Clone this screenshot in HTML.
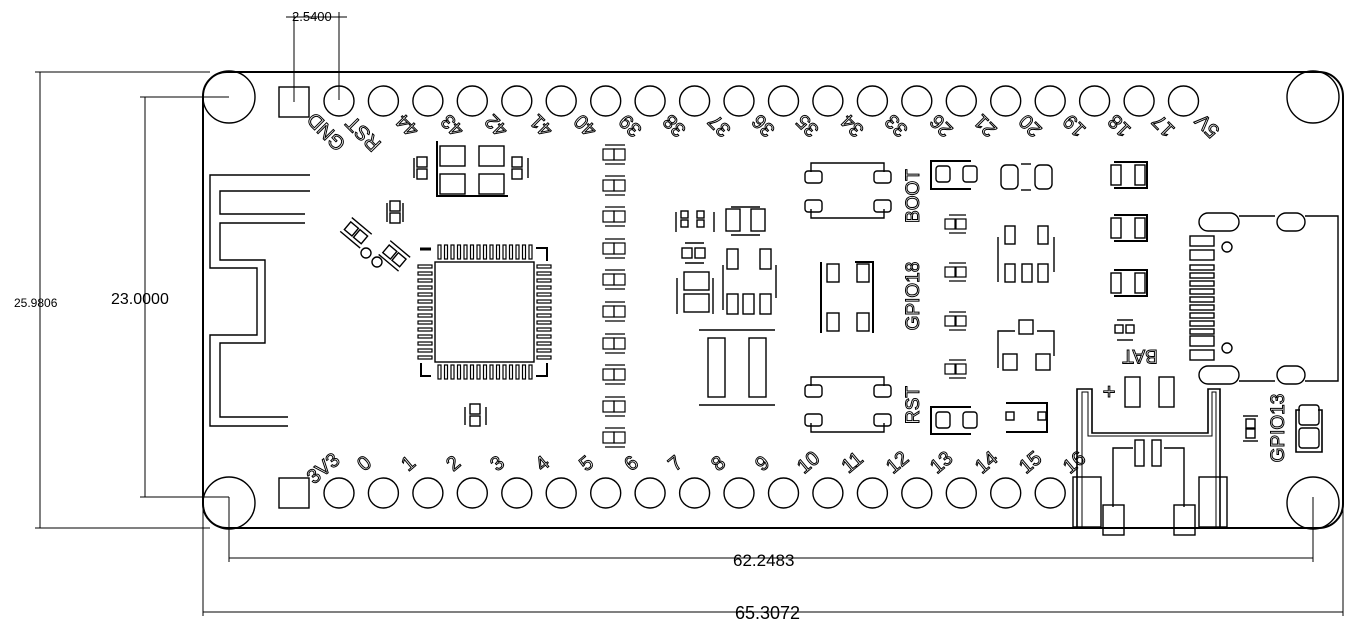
<!DOCTYPE html>
<html><head><style>
html,body{margin:0;padding:0;background:#fff;}
svg{display:block;}
.t{font-family:"Liberation Sans",sans-serif;fill:none;stroke:#000;stroke-width:1;}
.d{font-family:"Liberation Sans",sans-serif;fill:#000;}
</style></head><body>
<svg width="1362" height="634" viewBox="0 0 1362 634" xmlns="http://www.w3.org/2000/svg">
<g fill="none" stroke="#000" stroke-width="1.4">
<g stroke-width="1">
<line x1="35" y1="72" x2="210" y2="72"/><line x1="40" y1="72" x2="40" y2="528"/><line x1="35" y1="528" x2="210" y2="528"/>
<line x1="140" y1="97" x2="229" y2="97"/><line x1="145" y1="97" x2="145" y2="497"/><line x1="140" y1="497" x2="229" y2="497"/>
<line x1="229" y1="497" x2="229" y2="562"/><line x1="1313" y1="497" x2="1313" y2="562"/><line x1="229" y1="558" x2="1313" y2="558"/>
<line x1="203" y1="100" x2="203" y2="616"/><line x1="1343" y1="100" x2="1343" y2="616"/><line x1="203" y1="612" x2="1343" y2="612"/>
<line x1="294" y1="15" x2="294" y2="102"/><line x1="339" y1="12" x2="339" y2="100"/><line x1="286" y1="17" x2="347" y2="17"/>
</g>
<rect x="203" y="72" width="1140" height="456" rx="24" stroke-width="2"/>
<circle cx="229" cy="97" r="26"/><circle cx="1313" cy="97" r="26"/><circle cx="229" cy="503" r="26"/><circle cx="1313" cy="503" r="26"/>
<rect x="279" y="87" width="30" height="30"/>
<g>
<circle cx="339" cy="101" r="15"/><circle cx="383.4" cy="101" r="15"/><circle cx="427.9" cy="101" r="15"/><circle cx="472.3" cy="101" r="15"/><circle cx="516.8" cy="101" r="15"/><circle cx="561.2" cy="101" r="15"/><circle cx="605.7" cy="101" r="15"/><circle cx="650.1" cy="101" r="15"/><circle cx="694.6" cy="101" r="15"/><circle cx="739" cy="101" r="15"/><circle cx="783.5" cy="101" r="15"/><circle cx="827.9" cy="101" r="15"/><circle cx="872.4" cy="101" r="15"/><circle cx="916.8" cy="101" r="15"/><circle cx="961.3" cy="101" r="15"/><circle cx="1005.7" cy="101" r="15"/><circle cx="1050.2" cy="101" r="15"/><circle cx="1094.6" cy="101" r="15"/><circle cx="1139.1" cy="101" r="15"/><circle cx="1183.5" cy="101" r="15"/>
</g>
<rect x="279" y="478" width="30" height="30"/>
<g>
<circle cx="339" cy="493" r="15"/><circle cx="383.4" cy="493" r="15"/><circle cx="427.9" cy="493" r="15"/><circle cx="472.3" cy="493" r="15"/><circle cx="516.8" cy="493" r="15"/><circle cx="561.2" cy="493" r="15"/><circle cx="605.7" cy="493" r="15"/><circle cx="650.1" cy="493" r="15"/><circle cx="694.6" cy="493" r="15"/><circle cx="739" cy="493" r="15"/><circle cx="783.5" cy="493" r="15"/><circle cx="827.9" cy="493" r="15"/><circle cx="872.4" cy="493" r="15"/><circle cx="916.8" cy="493" r="15"/><circle cx="961.3" cy="493" r="15"/><circle cx="1005.7" cy="493" r="15"/><circle cx="1050.2" cy="493" r="15"/>
</g>
<polyline points="310,175 210,175 210,268 257,268 257,335 210,335 210,426 288,426"/>
<polyline points="310,191 220,191 220,214 305,214"/>
<polyline points="305,223 220,223 220,260 265,260 265,343 220,343 220,417 288,417"/>
<rect x="440" y="146" width="25" height="20"/><rect x="479" y="146" width="25" height="20"/><rect x="440" y="174" width="25" height="20"/><rect x="479" y="174" width="25" height="20"/>
<polyline points="437,141 437,196 508,196" stroke-width="2"/>
<rect x="417" y="157" width="10" height="10"/><rect x="417" y="169" width="10" height="10"/><line x1="414" y1="158" x2="414" y2="178"/>
<rect x="512" y="157" width="10" height="10"/><rect x="512" y="169" width="10" height="10"/><line x1="528" y1="158" x2="528" y2="178"/>
<rect x="390" y="201" width="10" height="10"/><rect x="390" y="213" width="10" height="10"/><line x1="387" y1="203" x2="387" y2="222"/><line x1="403" y1="203" x2="403" y2="222"/>
<g transform="rotate(40 352 236)"><rect x="342" y="226" width="10" height="10"/><rect x="354" y="226" width="10" height="10"/><line x1="340" y1="222" x2="366" y2="222"/><line x1="340" y1="240" x2="366" y2="240"/></g>
<circle cx="366" cy="253" r="5"/><circle cx="377" cy="262" r="5"/>
<g transform="rotate(40 393 256)"><rect x="383" y="250" width="10" height="10"/><rect x="395" y="250" width="10" height="10"/><line x1="381" y1="246" x2="407" y2="246"/><line x1="381" y1="264" x2="407" y2="264"/></g>
<rect x="435" y="262" width="99" height="100"/>
<g stroke-width="1.2">
<rect x="438" y="245" width="3" height="14"/><rect x="444.5" y="245" width="3" height="14"/><rect x="451" y="245" width="3" height="14"/><rect x="457.5" y="245" width="3" height="14"/><rect x="464" y="245" width="3" height="14"/><rect x="470.5" y="245" width="3" height="14"/><rect x="477" y="245" width="3" height="14"/><rect x="483.5" y="245" width="3" height="14"/><rect x="490" y="245" width="3" height="14"/><rect x="496.5" y="245" width="3" height="14"/><rect x="503" y="245" width="3" height="14"/><rect x="509.5" y="245" width="3" height="14"/><rect x="516" y="245" width="3" height="14"/><rect x="522.5" y="245" width="3" height="14"/><rect x="529" y="245" width="3" height="14"/>
<rect x="438" y="365" width="3" height="14"/><rect x="444.5" y="365" width="3" height="14"/><rect x="451" y="365" width="3" height="14"/><rect x="457.5" y="365" width="3" height="14"/><rect x="464" y="365" width="3" height="14"/><rect x="470.5" y="365" width="3" height="14"/><rect x="477" y="365" width="3" height="14"/><rect x="483.5" y="365" width="3" height="14"/><rect x="490" y="365" width="3" height="14"/><rect x="496.5" y="365" width="3" height="14"/><rect x="503" y="365" width="3" height="14"/><rect x="509.5" y="365" width="3" height="14"/><rect x="516" y="365" width="3" height="14"/><rect x="522.5" y="365" width="3" height="14"/><rect x="529" y="365" width="3" height="14"/>
<rect x="418" y="265" width="14" height="3"/><rect x="418" y="272" width="14" height="3"/><rect x="418" y="279" width="14" height="3"/><rect x="418" y="286" width="14" height="3"/><rect x="418" y="293" width="14" height="3"/><rect x="418" y="300" width="14" height="3"/><rect x="418" y="307" width="14" height="3"/><rect x="418" y="314" width="14" height="3"/><rect x="418" y="321" width="14" height="3"/><rect x="418" y="328" width="14" height="3"/><rect x="418" y="335" width="14" height="3"/><rect x="418" y="342" width="14" height="3"/><rect x="418" y="349" width="14" height="3"/><rect x="418" y="356" width="14" height="3"/>
<rect x="537" y="265" width="14" height="3"/><rect x="537" y="272" width="14" height="3"/><rect x="537" y="279" width="14" height="3"/><rect x="537" y="286" width="14" height="3"/><rect x="537" y="293" width="14" height="3"/><rect x="537" y="300" width="14" height="3"/><rect x="537" y="307" width="14" height="3"/><rect x="537" y="314" width="14" height="3"/><rect x="537" y="321" width="14" height="3"/><rect x="537" y="328" width="14" height="3"/><rect x="537" y="335" width="14" height="3"/><rect x="537" y="342" width="14" height="3"/><rect x="537" y="349" width="14" height="3"/><rect x="537" y="356" width="14" height="3"/>
</g>
<line x1="420" y1="249" x2="431" y2="249" stroke-width="3"/>
<polyline points="536,248 547,248 547,261" stroke-width="2"/>
<polyline points="421,363 421,376 431,376" stroke-width="2"/>
<polyline points="547,363 547,376 536,376" stroke-width="2"/>
<rect x="470" y="404" width="10" height="10"/><rect x="470" y="416" width="10" height="10"/><line x1="465" y1="407" x2="465" y2="425"/><line x1="486" y1="407" x2="486" y2="425"/>
<g stroke-width="1.2">
<g id="c"><line x1="605" y1="145" x2="625" y2="145"/><rect x="603" y="149" width="11" height="11"/><rect x="614" y="149" width="11" height="11"/><line x1="605" y1="164" x2="625" y2="164"/></g>
<use href="#c" y="31"/><use href="#c" y="62"/><use href="#c" y="94"/><use href="#c" y="125"/><use href="#c" y="157"/><use href="#c" y="189"/><use href="#c" y="220"/><use href="#c" y="252"/><use href="#c" y="283"/>
</g>
<rect x="681" y="211" width="7" height="7"/><rect x="681" y="220" width="7" height="7"/><rect x="697" y="211" width="7" height="7"/><rect x="697" y="220" width="7" height="7"/><line x1="676" y1="212" x2="676" y2="232"/><line x1="714" y1="212" x2="714" y2="232"/>
<rect x="726" y="209" width="14" height="22"/><rect x="751" y="209" width="14" height="22"/><line x1="731" y1="207" x2="760" y2="207"/><line x1="731" y1="235" x2="760" y2="235"/>
<rect x="682" y="248" width="10" height="10"/><rect x="695" y="248" width="10" height="10"/><line x1="685" y1="243" x2="704" y2="243"/><line x1="685" y1="263" x2="704" y2="263"/>
<rect x="684" y="272" width="25" height="18"/><rect x="684" y="294" width="25" height="18"/><line x1="677" y1="278" x2="677" y2="314"/><line x1="713" y1="278" x2="713" y2="314"/>
<rect x="727" y="249" width="11" height="20"/><rect x="760" y="249" width="11" height="20"/><rect x="727" y="294" width="11" height="20"/><rect x="743" y="294" width="11" height="20"/><rect x="760" y="294" width="11" height="20"/><line x1="723" y1="265" x2="723" y2="310"/><line x1="776" y1="265" x2="776" y2="298"/>
<line x1="699" y1="330" x2="775" y2="330"/><line x1="699" y1="405" x2="775" y2="405"/>
<rect x="708" y="338" width="17" height="59"/><rect x="749" y="338" width="17" height="59"/>
<g id="b"><polyline points="811,172 811,163 884,163 884,172"/><polyline points="811,209 811,218 884,218 884,209"/>
<rect x="805" y="171" width="17" height="12" rx="3"/><rect x="874" y="171" width="17" height="12" rx="3"/><rect x="805" y="200" width="17" height="12" rx="3"/><rect x="874" y="200" width="17" height="12" rx="3"/></g>
<use href="#b" y="214"/>
<line x1="821" y1="262" x2="821" y2="333" stroke-width="2"/><polyline points="855,262 873,262 873,333" stroke-width="2"/>
<rect x="827" y="264" width="12" height="18"/><rect x="857" y="264" width="12" height="18"/><rect x="827" y="313" width="12" height="18"/><rect x="857" y="313" width="12" height="18"/>
<polyline points="971,161 931,161 931,189 971,189" stroke-width="2"/><rect x="936" y="166" width="14" height="16" rx="3"/><rect x="963" y="166" width="14" height="16" rx="3"/>
<polyline points="971,407 931,407 931,434 971,434" stroke-width="2"/><rect x="936" y="412" width="14" height="16" rx="3"/><rect x="963" y="412" width="14" height="16" rx="3"/>
<g stroke-width="1.2">
<g id="s"><line x1="949" y1="215" x2="966" y2="215"/><rect x="945" y="219" width="10" height="10"/><rect x="956" y="219" width="10" height="10"/><line x1="949" y1="233" x2="966" y2="233"/></g>
<use href="#s" y="48"/><use href="#s" y="97"/><use href="#s" y="145"/>
</g>
<rect x="1001" y="165" width="17" height="24" rx="5"/><rect x="1035" y="165" width="17" height="24" rx="5"/><line x1="1021" y1="164" x2="1031" y2="164"/><line x1="1021" y1="190" x2="1031" y2="190"/>
<rect x="1005" y="226" width="10" height="18"/><rect x="1038" y="226" width="10" height="18"/><rect x="1005" y="264" width="10" height="18"/><rect x="1022" y="264" width="10" height="18"/><rect x="1038" y="264" width="10" height="18"/><line x1="998" y1="237" x2="998" y2="282"/><line x1="1054" y1="237" x2="1054" y2="272"/>
<rect x="1019" y="320" width="14" height="14"/><polyline points="998,368 998,331 1015,331"/><polyline points="1037,331 1054,331 1054,356"/><rect x="1003" y="354" width="14" height="16"/><rect x="1036" y="354" width="14" height="16"/>
<polyline points="1006,403 1047,403 1047,432 1006,432" stroke-width="2"/><rect x="1006" y="412" width="8" height="8"/><rect x="1038" y="412" width="8" height="8"/>
<g id="r"><polyline points="1114,162 1147,162 1147,188 1114,188" stroke-width="2"/><rect x="1111" y="165" width="10" height="20"/><rect x="1135" y="165" width="10" height="20"/></g>
<use href="#r" y="53"/><use href="#r" y="108"/>
<line x1="1117" y1="320" x2="1133" y2="320"/><rect x="1115" y="325" width="8" height="8"/><rect x="1126" y="325" width="8" height="8"/><line x1="1117" y1="340" x2="1133" y2="340"/>
<rect x="1199" y="213" width="40" height="18" rx="9"/><rect x="1277" y="213" width="28" height="18" rx="9"/><rect x="1199" y="366" width="40" height="18" rx="9"/><rect x="1277" y="366" width="28" height="18" rx="9"/>
<polyline points="1239,216 1275,216"/><polyline points="1305,216 1338,216 1338,381 1305,381"/><polyline points="1239,381 1275,381"/>
<rect x="1190" y="236" width="24" height="10"/><rect x="1190" y="250" width="24" height="10"/><rect x="1190" y="265" width="24" height="5"/><rect x="1190" y="273" width="24" height="5"/><rect x="1190" y="281" width="24" height="5"/><rect x="1190" y="289" width="24" height="5"/><rect x="1190" y="297" width="24" height="5"/><rect x="1190" y="305" width="24" height="5"/><rect x="1190" y="313" width="24" height="5"/><rect x="1190" y="321" width="24" height="5"/><rect x="1190" y="329" width="24" height="5"/><rect x="1190" y="336" width="24" height="10"/><rect x="1190" y="350" width="24" height="10"/>
<circle cx="1227" cy="247" r="5"/><circle cx="1227" cy="348" r="5"/>
<rect x="1125" y="377" width="15" height="30"/><rect x="1159" y="377" width="15" height="30"/>
<polyline points="1077,528 1077,389 1092,389 1092,433 1208,433 1208,389 1220,389 1220,528" stroke-width="1.6"/>
<polyline points="1082,528 1082,392 1088,392 1088,436 1212,436 1212,392 1216,392 1216,528" stroke-width="1"/>
<rect x="1135" y="440" width="9" height="26"/><rect x="1152" y="440" width="9" height="26"/>
<polyline points="1113,507 1113,448 1133,448"/><polyline points="1164,448 1184,448 1184,507"/>
<rect x="1073" y="477" width="28" height="50"/><rect x="1199" y="477" width="28" height="50"/>
<rect x="1103" y="505" width="21" height="30"/><rect x="1174" y="505" width="21" height="30"/>
<line x1="1243" y1="416" x2="1258" y2="416"/><rect x="1246" y="419" width="9" height="9"/><rect x="1246" y="429" width="9" height="9"/><line x1="1243" y1="441" x2="1258" y2="441"/>
<polyline points="1300,410 1296,410 1296,452 1322,452 1322,410 1318,410" stroke-width="1.6"/><rect x="1299" y="405" width="20" height="20" rx="3"/><rect x="1299" y="428" width="20" height="20" rx="3"/>
</g>
<g class="d">
<text x="292" y="21" font-size="13">2.5400</text>
<text x="14" y="307" font-size="12">25.9806</text>
<text x="111" y="304" font-size="16">23.0000</text>
<text x="733" y="566" font-size="17">62.2483</text>
<text x="735" y="619" font-size="18">65.3072</text>
</g>
<g class="t" font-size="20" text-anchor="middle">
<text transform="translate(326,132) rotate(-135)" dy="7">GND</text>
<text transform="translate(363,134) rotate(-135)" dy="7">RST</text>
<text transform="translate(407,126) rotate(-135)" dy="7">44</text>
<text transform="translate(452,126) rotate(-135)" dy="7">43</text>
<text transform="translate(496,126) rotate(-135)" dy="7">42</text>
<text transform="translate(541,126) rotate(-135)" dy="7">41</text>
<text transform="translate(585,126) rotate(-135)" dy="7">40</text>
<text transform="translate(630,126) rotate(-135)" dy="7">39</text>
<text transform="translate(674,126) rotate(-135)" dy="7">38</text>
<text transform="translate(719,126) rotate(-135)" dy="7">37</text>
<text transform="translate(763,126) rotate(-135)" dy="7">36</text>
<text transform="translate(807,126) rotate(-135)" dy="7">35</text>
<text transform="translate(852,126) rotate(-135)" dy="7">34</text>
<text transform="translate(896,126) rotate(-135)" dy="7">33</text>
<text transform="translate(941,126) rotate(-135)" dy="7">26</text>
<text transform="translate(985,126) rotate(-135)" dy="7">21</text>
<text transform="translate(1030,126) rotate(-135)" dy="7">20</text>
<text transform="translate(1074,126) rotate(-135)" dy="7">19</text>
<text transform="translate(1119,126) rotate(-135)" dy="7">18</text>
<text transform="translate(1163,126) rotate(-135)" dy="7">17</text>
<text transform="translate(1207,126) rotate(-135)" dy="7">5V</text>
</g>
<g class="t" font-size="20" text-anchor="middle">
<text transform="translate(323,468) rotate(-40)" dy="7">3V3</text>
<text transform="translate(364,463) rotate(-40)" dy="7">0</text>
<text transform="translate(408,463) rotate(-40)" dy="7">1</text>
<text transform="translate(453,463) rotate(-40)" dy="7">2</text>
<text transform="translate(497,463) rotate(-40)" dy="7">3</text>
<text transform="translate(542,463) rotate(-40)" dy="7">4</text>
<text transform="translate(586,463) rotate(-40)" dy="7">5</text>
<text transform="translate(631,463) rotate(-40)" dy="7">6</text>
<text transform="translate(675,463) rotate(-40)" dy="7">7</text>
<text transform="translate(718,463) rotate(-40)" dy="7">8</text>
<text transform="translate(762,463) rotate(-40)" dy="7">9</text>
<text transform="translate(808,462) rotate(-40)" dy="7">10</text>
<text transform="translate(852,462) rotate(-40)" dy="7">11</text>
<text transform="translate(897,462) rotate(-40)" dy="7">12</text>
<text transform="translate(941,462) rotate(-40)" dy="7">13</text>
<text transform="translate(986,462) rotate(-40)" dy="7">14</text>
<text transform="translate(1030,462) rotate(-40)" dy="7">15</text>
<text transform="translate(1074,462) rotate(-40)" dy="7">16</text>
</g>
<g class="t" font-size="19" text-anchor="middle">
<text transform="translate(912,196) rotate(-90)" dy="7">BOOT</text>
<text transform="translate(912,296) rotate(-90)" dy="7">GPIO18</text>
<text transform="translate(912,405) rotate(-90)" dy="7">RST</text>
<text transform="translate(1140,357) rotate(180)" dy="7">BAT</text>
<text transform="translate(1277,428) rotate(-90)" dy="7">GPIO13</text>
<text x="1109" y="399" font-size="22">+</text>
</g>
</svg>
</body></html>
